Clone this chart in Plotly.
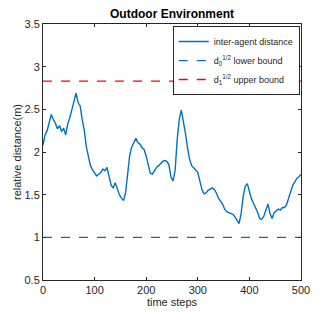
import plotly.graph_objects as go

steps = list(range(0, 501, 4))
distance = [
    2.08, 2.20, 2.25, 2.33, 2.44, 2.38, 2.34, 2.27, 2.31, 2.24,
    2.28, 2.20, 2.33, 2.40, 2.50, 2.62, 2.69, 2.58, 2.54, 2.38,
    2.25, 2.06, 1.95, 1.84, 1.79, 1.75, 1.72, 1.74, 1.76, 1.80,
    1.78, 1.82, 1.71, 1.61, 1.58, 1.64, 1.57, 1.50, 1.46, 1.43,
    1.52, 1.75, 1.96, 2.06, 2.12, 2.16, 2.11, 2.09, 2.05, 2.03,
    1.95, 1.86, 1.75, 1.74, 1.79, 1.82, 1.84, 1.87, 1.89, 1.90,
    1.89, 1.85, 1.71, 1.66, 1.78, 2.14, 2.38, 2.49, 2.36, 2.22,
    2.05, 1.92, 1.84, 1.82, 1.79, 1.76, 1.67, 1.56, 1.51, 1.52,
    1.55, 1.57, 1.58, 1.56, 1.52, 1.46, 1.43, 1.39, 1.33, 1.30,
    1.29, 1.28, 1.27, 1.24, 1.20, 1.16, 1.28, 1.48, 1.60, 1.63,
    1.54, 1.45, 1.40, 1.35, 1.29, 1.22, 1.21, 1.25, 1.33, 1.39,
    1.28, 1.22, 1.29, 1.31, 1.33, 1.32, 1.35, 1.35, 1.38, 1.46,
    1.54, 1.61, 1.65, 1.69, 1.71, 1.74,
]
lower_bound = 1.0
upper_bound = 2.83
x_range = [0, 500]
y_range = [0.5, 3.5]
x_ticks = [0, 100, 200, 300, 400, 500]
y_ticks = [0.5, 1, 1.5, 2, 2.5, 3, 3.5]
y_tick_labels = ["0.5", "1", "1.5", "2", "2.5", "3", "3.5"]

blue = "#0072BD"
red = "#FF0000"

fig = go.Figure()
fig.add_trace(go.Scatter(x=steps, y=distance, mode="lines",
                         line=dict(color=blue, width=1.4),
                         name="inter-agent distance"))
fig.add_trace(go.Scatter(x=x_range, y=[lower_bound, lower_bound], mode="lines",
                         line=dict(color=blue, width=1.2, dash="dash"),
                         name="d<sub>0</sub><sup>1/2</sup> lower bound"))
fig.add_trace(go.Scatter(x=x_range, y=[upper_bound, upper_bound], mode="lines",
                         line=dict(color=red, width=1.4, dash="dash"),
                         name="d<sub>1</sub><sup>1/2</sup> upper bound"))

axis_common = dict(showline=True, linecolor="#262626", linewidth=1, mirror="allticks",
                   ticks="inside", ticklen=3, tickcolor="#262626", showgrid=False,
                   zeroline=False, automargin=False,
                   tickfont=dict(size=11, color="#262626"))

# page body has an 8px margin, so the figure is 8px smaller and offset
fig.update_layout(
    width=324, height=307,
    margin=dict(l=35, r=31, t=16, b=35, autoexpand=False),
    paper_bgcolor="white", plot_bgcolor="white",
    font=dict(family="Liberation Sans, Arial, sans-serif", color="#262626"),
    title=dict(text="<b>Outdoor Environment</b>", x=(35 + 293) / 2 / 324, xref="container",
               xanchor="center", y=1 - 6 / 307, yref="container", yanchor="middle",
               automargin=False, font=dict(size=12, color="black")),
    showlegend=True,
    legend=dict(x=0.503, y=0.992, xanchor="left", yanchor="top",
                bgcolor="white", bordercolor="#262626", borderwidth=1,
                font=dict(size=9, color="#262626"), tracegroupgap=0,
                itemwidth=30),
)
fig.update_xaxes(range=x_range, tickvals=x_ticks,
                 title=dict(text="time steps", font=dict(size=11), standoff=0), **axis_common)
fig.update_yaxes(range=y_range, tickvals=y_ticks, ticktext=y_tick_labels,
                 title=dict(text="relative distance(m)", font=dict(size=11), standoff=0), **axis_common)

fig.write_html("out.html")
